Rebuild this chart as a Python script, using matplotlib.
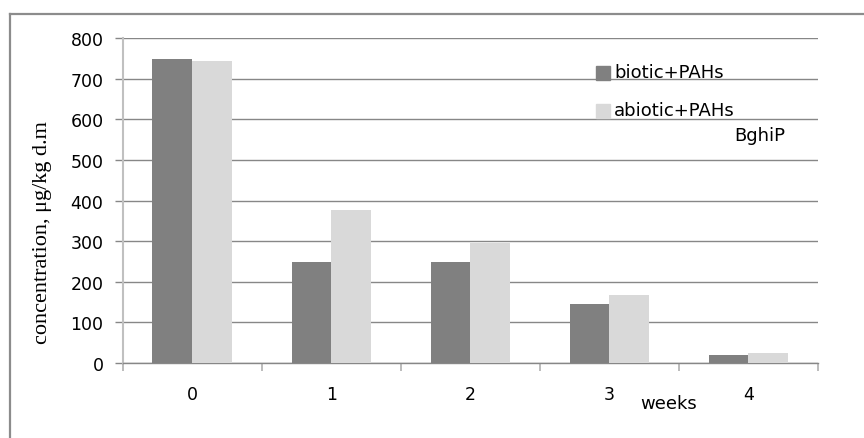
import matplotlib
matplotlib.use("Agg")
import matplotlib.pyplot as plt
from matplotlib.lines import Line2D
import numpy as np

weeks = ["0", "1", "2", "3", "4"]
biotic = [750, 250, 250, 146, 20]
abiotic = [745, 378, 295, 168, 25]
series_names = ["biotic+PAHs", "abiotic+PAHs"]
yticks = [0, 100, 200, 300, 400, 500, 600, 700, 800]

W, H = 864, 439
DPI = 100
fig = plt.figure(figsize=(W / DPI, H / DPI), dpi=DPI)
fig.patch.set_facecolor("white")

def fx(px):
    return px / W

def fy(py):
    return 1 - py / H

ax = fig.add_axes([fx(122.7), fy(364), fx(818) - fx(122.7), fy(39.3) - fy(364)])

x = np.arange(len(weeks))
bw = 1 / 3.5
ax.bar(x - bw / 2, biotic, width=bw, color="#808080", zorder=3)
ax.bar(x + bw / 2, abiotic, width=bw, color="#d9d9d9", zorder=3)

ax.set_xlim(-0.5, len(weeks) - 0.5)
ax.set_ylim(0, 800)
ax.set_yticks(yticks)
ax.set_yticklabels([str(v) for v in yticks])
ax.yaxis.grid(True, color="#878787", linewidth=1.0, zorder=0)
ax.set_axisbelow(True)

for s in ["top", "right"]:
    ax.spines[s].set_visible(False)
ax.spines["left"].set_color("#c0c0c0")
ax.spines["left"].set_linewidth(1.5)
ax.spines["bottom"].set_color("#878787")
ax.spines["bottom"].set_linewidth(1.0)

FS = 12.5
ax.tick_params(axis="y", length=5.8, width=1.0, color="#878787", pad=8, labelsize=FS)
ax.set_xticks(x)
ax.set_xticklabels(weeks)
ax.tick_params(axis="x", which="major", length=0, pad=15.5, labelsize=FS)
ax.set_xticks(np.arange(-0.5, len(weeks), 1.0), minor=True)
ax.tick_params(axis="x", which="minor", length=5.8, width=1.2, color="#b0b0b0")
for lab in ax.get_xticklabels() + ax.get_yticklabels():
    lab.set_fontfamily("DejaVu Sans")

# y label (serif)
fig.text(fx(43), fy(233), "concentration, μg/kg d.m", rotation=90,
         ha="center", va="center", family="Liberation Serif", fontsize=16)

# x label
fig.text(fx(669), fy(404), "weeks", ha="center", va="center",
         family="DejaVu Sans", fontsize=13)

# legend (manual placement)
colors = ["#808080", "#d9d9d9"]
leg_y = [74, 111.5]
for name, c, yy in zip(series_names, colors, leg_y):
    fig.patches.append(plt.Rectangle((fx(596), fy(yy + 7)), fx(14), 14 / H,
                                     transform=fig.transFigure, color=c, zorder=5))
    fig.text(fx(614), fy(yy - 1), name, ha="left", va="center",
             family="DejaVu Sans", fontsize=13, zorder=6)

fig.text(fx(760), fy(136), "BghiP", ha="center", va="center",
         family="DejaVu Sans", fontsize=13)

# outer frame (left and top visible)
fig.add_artist(Line2D([fx(10), fx(10)], [fy(15), fy(445)], transform=fig.transFigure,
                      color="#8c8c8c", linewidth=1.6))
fig.add_artist(Line2D([fx(10), fx(870)], [fy(15), fy(15)], transform=fig.transFigure,
                      color="#8c8c8c", linewidth=1.6))

fig.savefig("out.png", dpi=DPI, facecolor="white")
